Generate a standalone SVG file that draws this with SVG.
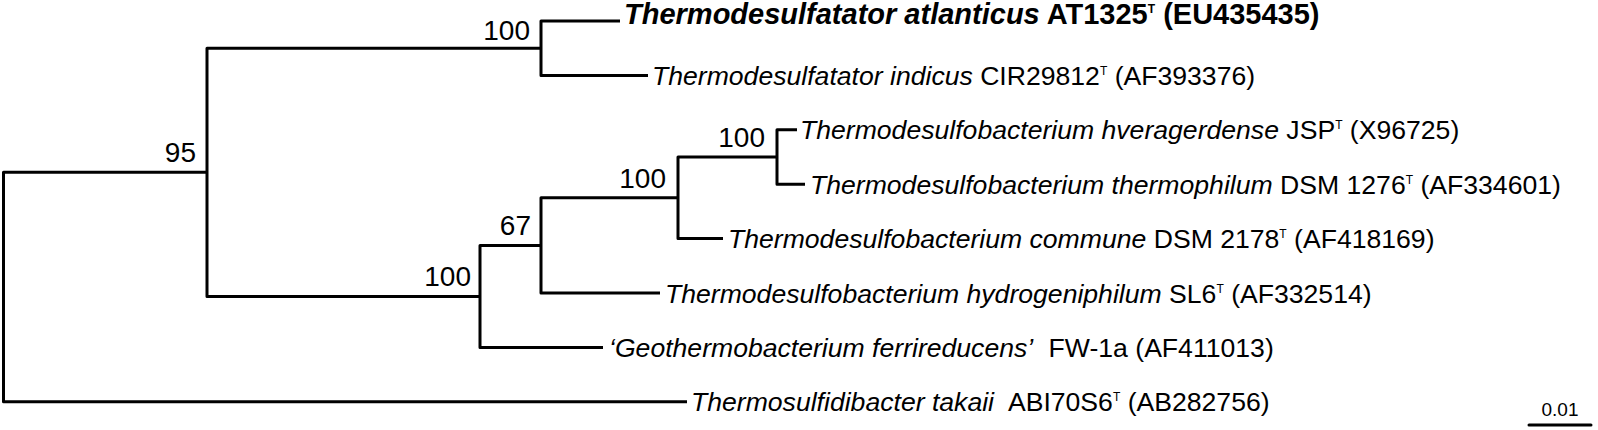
<svg xmlns="http://www.w3.org/2000/svg" width="1598" height="430" viewBox="0 0 1598 430">
<style>
.br{fill:none;stroke:#000;stroke-width:3;stroke-linejoin:round}
.bs{font-family:"Liberation Sans",Arial,sans-serif;font-size:28px;fill:#000;text-anchor:end}
.lb{font-family:"Liberation Sans",Arial,sans-serif;font-size:26.6px;fill:#000}
.lbb{font-family:"Liberation Sans",Arial,sans-serif;font-size:29px;font-weight:bold;fill:#000}
.i{font-style:italic}
.sup{font-size:12px}
.sc{font-family:"Liberation Sans",Arial,sans-serif;font-size:19px;fill:#000;text-anchor:middle}
</style>
<rect width="1598" height="430" fill="#fff"/>
<g id="connectors">
<path class="br" d="M207,172.3 H3.5 V401.8 H687"/>
<path class="br" d="M541,48.2 H207 V296.4 H480"/>
<path class="br" d="M620,21 H541 V75.4 H648"/>
<path class="br" d="M541,245.4 H480 V347.4 H603"/>
<path class="br" d="M678,197.8 H541 V293 H660"/>
<path class="br" d="M777,157 H678 V238.6 H723"/>
<path class="br" d="M797,129.8 H777 V184.2 H805"/>
</g>
<g id="node-95"><text class="bs" x="196" y="162">95</text></g>
<g id="node-top100"><text class="bs" x="530" y="40">100</text></g>
<g id="node-low100"><text class="bs" x="471" y="286">100</text></g>
<g id="node-67"><text class="bs" x="531" y="235">67</text></g>
<g id="node-mid100"><text class="bs" x="666" y="188">100</text></g>
<g id="node-hv100"><text class="bs" x="765" y="147">100</text></g>
<g id="tip-atlanticus"><text class="lbb" x="624" y="24"><tspan class="i">Thermodesulfatator atlanticus</tspan> AT1325<tspan class="sup" dy="-11">T</tspan><tspan dy="11"> (EU435435)</tspan></text></g>
<g id="tip-indicus"><text class="lb" x="652" y="84.5"><tspan class="i">Thermodesulfatator indicus</tspan> CIR29812<tspan class="sup" dy="-10">T</tspan><tspan dy="10"> (AF393376)</tspan></text></g>
<g id="tip-hveragerdense"><text class="lb" x="800" y="139"><tspan class="i">Thermodesulfobacterium hveragerdense</tspan> JSP<tspan class="sup" dy="-10">T</tspan><tspan dy="10"> (X96725)</tspan></text></g>
<g id="tip-thermophilum"><text class="lb" x="810" y="193.5"><tspan class="i">Thermodesulfobacterium thermophilum</tspan> DSM 1276<tspan class="sup" dy="-10">T</tspan><tspan dy="10"> (AF334601)</tspan></text></g>
<g id="tip-commune"><text class="lb" x="728" y="248"><tspan class="i">Thermodesulfobacterium commune</tspan> DSM 2178<tspan class="sup" dy="-10">T</tspan><tspan dy="10"> (AF418169)</tspan></text></g>
<g id="tip-hydrogeniphilum"><text class="lb" x="665" y="302.5"><tspan class="i">Thermodesulfobacterium hydrogeniphilum</tspan> SL6<tspan class="sup" dy="-10">T</tspan><tspan dy="10"> (AF332514)</tspan></text></g>
<g id="tip-geothermobacterium"><text class="lb" x="609" y="357"><tspan class="i">‘Geothermobacterium ferrireducens’</tspan><tspan dx="8"> FW-1a (AF411013)</tspan></text></g>
<g id="tip-takaii"><text class="lb" x="691" y="411"><tspan class="i">Thermosulfidibacter takaii</tspan><tspan dx="8"> ABI70S6</tspan><tspan class="sup" dy="-10">T</tspan><tspan dy="10"> (AB282756)</tspan></text></g>
<g id="scale-bar">
<line class="br" x1="1529" y1="425" x2="1591" y2="425" stroke-linecap="round"/>
<text class="sc" x="1560" y="416">0.01</text>
</g>
</svg>
